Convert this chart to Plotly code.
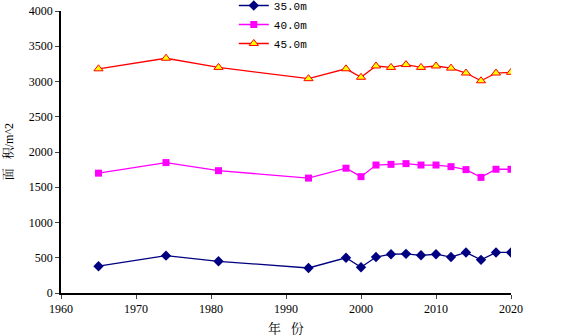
import plotly.graph_objects as go

years = [1965, 1974, 1981, 1993, 1998, 2000, 2002, 2004, 2006, 2008, 2010, 2012, 2014, 2016, 2018, 2020]
s35 = [380, 530, 450, 355, 500, 365, 510, 550, 555, 535, 550, 510, 575, 470, 575, 575]
s40 = [1700, 1850, 1735, 1630, 1770, 1650, 1815, 1825, 1835, 1815, 1815, 1792, 1750, 1640, 1755, 1755]
s45 = [3180, 3330, 3200, 3040, 3180, 3060, 3220, 3200, 3240, 3200, 3220, 3190, 3120, 3010, 3120, 3130]
names = ["35.0m", "40.0m", "45.0m"]
xticks = [1960, 1970, 1980, 1990, 2000, 2010, 2020]
yticks = [0, 500, 1000, 1500, 2000, 2500, 3000, 3500, 4000]

serif = "Liberation Serif, Noto Serif CJK SC, Noto Sans CJK SC, serif"

fig = go.Figure()
fig.add_trace(go.Scatter(x=years, y=s35, name=names[0], mode="lines+markers",
                         line=dict(color="#000080", width=1.3),
                         marker=dict(symbol="diamond", size=8, color="#000080")))
fig.add_trace(go.Scatter(x=years, y=s40, name=names[1], mode="lines+markers",
                         line=dict(color="#FF00FF", width=1.3),
                         marker=dict(symbol="square", size=7, color="#FF00FF")))
fig.add_trace(go.Scatter(x=years, y=s45, name=names[2], mode="lines+markers",
                         line=dict(color="#FF0000", width=1.3),
                         marker=dict(symbol="triangle-up", size=8, color="#FFFF00",
                                     line=dict(color="#FF0000", width=1))))

fig.update_layout(
    width=566, height=336,
    margin=dict(l=61, r=55, t=11, b=43, autoexpand=False),
    plot_bgcolor="white", paper_bgcolor="white",
    font=dict(family=serif, size=12, color="black"),
    showlegend=True,
    legend=dict(x=0.384, y=1.071, xanchor="left", yanchor="top",
                bgcolor="rgba(0,0,0,0)", tracegroupgap=0, itemwidth=30,
                font=dict(family="Liberation Mono, DejaVu Sans Mono, monospace", size=11)),
    xaxis=dict(range=[1960, 2020], tickvals=xticks, ticks="outside", ticklen=4,
               showline=True, linecolor="black", linewidth=1.5, showgrid=False,
               zeroline=False, tickfont=dict(size=12), automargin=False),
    yaxis=dict(range=[0, 4000], tickvals=yticks, ticks="outside", ticklen=4,
               showline=True, linecolor="black", linewidth=1.5, showgrid=False,
               zeroline=False, tickfont=dict(size=12), automargin=False),
    annotations=[
        dict(text="年   份", xref="paper", yref="paper", x=0.5, y=-0.125,
             xanchor="center", yanchor="middle", showarrow=False, font=dict(size=13)),
        dict(text="面   积/m^2", xref="paper", yref="paper", x=-0.115, y=0.5,
             xanchor="center", yanchor="middle", textangle=-90, showarrow=False,
             font=dict(size=12)),
    ],
)

fig.write_html("out.html", config={"displayModeBar": False},
               post_script="document.body.style.margin='0';document.body.style.overflow='hidden';")
